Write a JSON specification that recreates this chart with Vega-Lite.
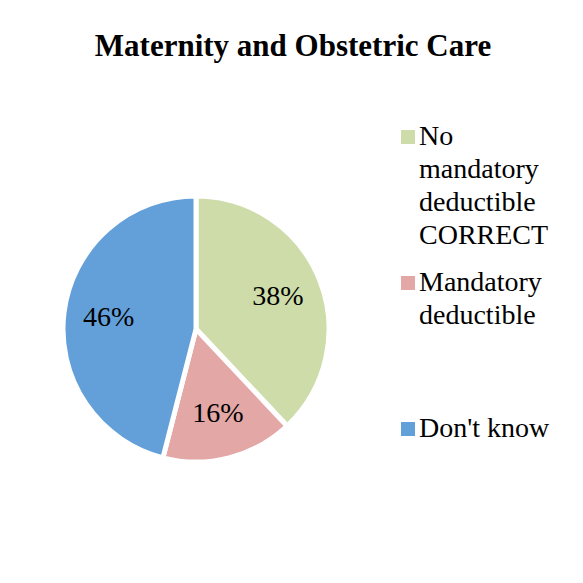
{
  "$schema": "https://vega.github.io/schema/vega-lite/v6.json",
  "width": 262,
  "height": 262,
  "autosize": {"type": "none"},
  "padding": {"left": 65, "top": 198, "right": 256, "bottom": 123},
  "background": "white",
  "title": {"text": "Maternity and Obstetric Care", "font": "Liberation Serif", "fontSize": 31, "fontWeight": "bold", "color": "black", "anchor": "middle", "frame": "group", "dx": 97, "offset": 60},
  "data": {"values": [
    {"category": "No mandatory deductible CORRECT", "value": 38, "label": "38%", "order": 1},
    {"category": "Mandatory deductible", "value": 16, "label": "16%", "order": 2},
    {"category": "Don't know", "value": 46, "label": "46%", "order": 3}
  ]},
  "encoding": {
    "theta": {"field": "value", "type": "quantitative", "stack": true},
    "order": {"field": "order", "type": "quantitative"}
  },
  "layer": [
    {
      "mark": {"type": "arc", "radius": 133, "stroke": "white", "strokeWidth": 5},
      "encoding": {
        "color": {
          "field": "category", "type": "nominal",
          "scale": {"domain": ["No mandatory deductible CORRECT", "Mandatory deductible", "Don't know"], "range": ["#cddca9", "#e3a7a6", "#63a0da"]},
          "legend": {
            "title": null, "orient": "none", "legendX": 329, "legendY": -75,
            "symbolType": "square", "symbolSize": 196, "symbolStrokeWidth": 0,
            "labelFont": "Liberation Serif", "labelFontSize": 28, "labelColor": "black",
            "labelLimit": 300, "rowPadding": 19, "labelOffset": -3,
            "labelExpr": "datum.label == 'No mandatory deductible CORRECT' ? ['No', 'mandatory', 'deductible', 'CORRECT'] : datum.label == 'Mandatory deductible' ? ['Mandatory', 'deductible', '', ''] : datum.label"
          }
        }
      }
    },
    {
      "mark": {"type": "text", "radius": 88, "font": "Liberation Serif", "fontSize": 28},
      "encoding": {
        "text": {"field": "label"},
        "detail": {"field": "category"},
        "color": {"value": "black"}
      }
    }
  ],
  "config": {
    "style": {"guide-label": {"lineHeight": 33}},
    "view": {"stroke": null}
  }
}
